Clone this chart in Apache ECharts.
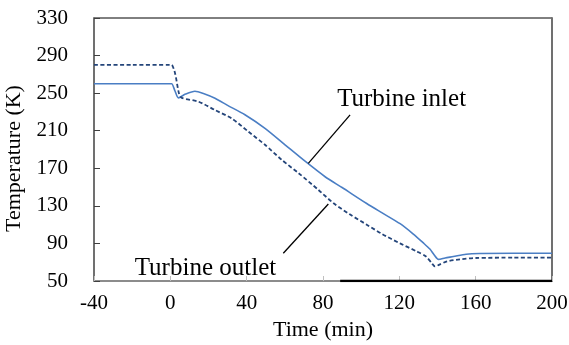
<!DOCTYPE html>
<html>
<head>
<meta charset="utf-8">
<script src="https://cdn.jsdelivr.net/npm/echarts@6/dist/echarts.min.js"></script>
<style>
html,body{margin:0;padding:0;background:#fff;}
#main{width:569px;height:345px;}
</style>
</head>
<body>
<div id="main"></div>
<script>
// data
var inletTime=[-40,-20,0,0.7,2.5,4.2,8,12.9,18,23.4,30,39.1,49.6,60.1,70.6,81.1,90,102.9,111,120.4,127,132.6,136,138.2,140.5,144,148.3,155,162,180,200];
var inletTemp=[260,260,260,260,252,245,249,252,249,244.5,237,227,212.5,195,177.5,161,149.5,132.5,122.5,111,100.5,90.5,84,78,73,74.5,76,78.5,79.3,79.5,79.5];

var outletTime=[-40,-20,0,0.7,2.5,4.5,6,14.7,23.4,32.2,40.9,49.6,58.4,67.1,77.6,85.4,94,102.9,111,120.4,129.1,134,137,138.7,141,145,151.8,160,180,200];
var outletTemp=[280,280,280,280,271,250,245,241,232,223,209,195,179,165,147,133,121,110,100,90,81.5,76,69,65.5,67.5,71,73,74.5,74.8,74.8];

// leader lines of the annotations and the dark bit of the base line
var inletLeader=[[94.2,226.8],[72.3,175.3]];
var outletLeader=[[82.8,132],[59.2,79.5]];
var blackBase=[[89,50],[200,50]];

function pairs(xs,ys){
    var out=[];
    for(var i=0;i<xs.length;i++){
        out.push([xs[i],ys[i]]);
    }
    return out;
}

var font='"Liberation Serif","Times New Roman",serif';
var myChart=echarts.init(document.getElementById('main'),null,{renderer:'canvas'});

var option={
    animation:false,
    grid:{
        left:94,
        right:17,
        top:18,
        bottom:64,
        outerBoundsMode:'none',
        containLabel:false,
        show:true,
        borderColor:'#000',
        borderWidth:1
    },
    xAxis:{
        type:'value',
        min:-40,
        max:200,
        interval:40,
        name:'Time (min)',
        nameLocation:'middle',
        nameGap:36,
        nameTextStyle:{fontFamily:font,fontSize:22,color:'#000'},
        axisLine:{onZero:false,lineStyle:{color:'#8c8c8c',width:2}},
        axisTick:{inside:true,length:5,lineStyle:{color:'#bfbfbf'}},
        axisLabel:{fontFamily:font,fontSize:21,color:'#000',margin:12},
        splitLine:{show:false}
    },
    yAxis:[{
        type:'value',
        min:50,
        max:330,
        interval:40,
        name:'Temperature (K)',
        nameLocation:'middle',
        nameGap:57,
        nameTextStyle:{fontFamily:font,fontSize:22,color:'#000',padding:[0,18,0,0]},
        axisLine:{show:true,onZero:false,lineStyle:{color:'#707070',width:2}},
        axisTick:{show:true,inside:true,length:6,lineStyle:{color:'#404040'}},
        axisLabel:{fontFamily:font,fontSize:21,color:'#000',margin:26},
        splitLine:{show:false}
    },{
        type:'value',
        min:50,
        max:330,
        interval:40,
        position:'right',
        axisLine:{show:true,onZero:false,lineStyle:{color:'#707070',width:2}},
        axisTick:{show:false},
        axisLabel:{show:false},
        splitLine:{show:false}
    }],
    series:[{
        name:'Turbine inlet',
        type:'line',
        data:pairs(inletTime,inletTemp),
        smooth:0.25,
        showSymbol:false,
        lineStyle:{color:'#4a7ec4',width:1.6}
    },{
        name:'Turbine outlet',
        type:'line',
        data:pairs(outletTime,outletTemp),
        smooth:0.25,
        showSymbol:false,
        lineStyle:{color:'#24457a',width:1.8,type:[4,2.5]}
    },{
        type:'line',
        data:inletLeader,
        showSymbol:false,
        lineStyle:{color:'#000',width:1.3}
    },{
        type:'line',
        data:outletLeader,
        showSymbol:false,
        lineStyle:{color:'#000',width:1.3}
    },{
        type:'line',
        data:blackBase,
        showSymbol:false,
        lineStyle:{color:'#000',width:2.5}
    }]
};

myChart.setOption(option);

// annotation texts placed through the axes
var p1=myChart.convertToPixel({gridIndex:0},[121.2,242.8]);
var p2=myChart.convertToPixel({gridIndex:0},[18.4,63.8]);
myChart.setOption({
    graphic:[{
        type:'text',
        x:p1[0],
        y:p1[1],
        style:{text:'Turbine inlet',fontFamily:font,fontSize:25,fill:'#000',align:'center',verticalAlign:'middle'}
    },{
        type:'text',
        x:p2[0],
        y:p2[1],
        style:{text:'Turbine outlet',fontFamily:font,fontSize:25,fill:'#000',align:'center',verticalAlign:'middle'}
    }]
});
</script>
</body>
</html>
